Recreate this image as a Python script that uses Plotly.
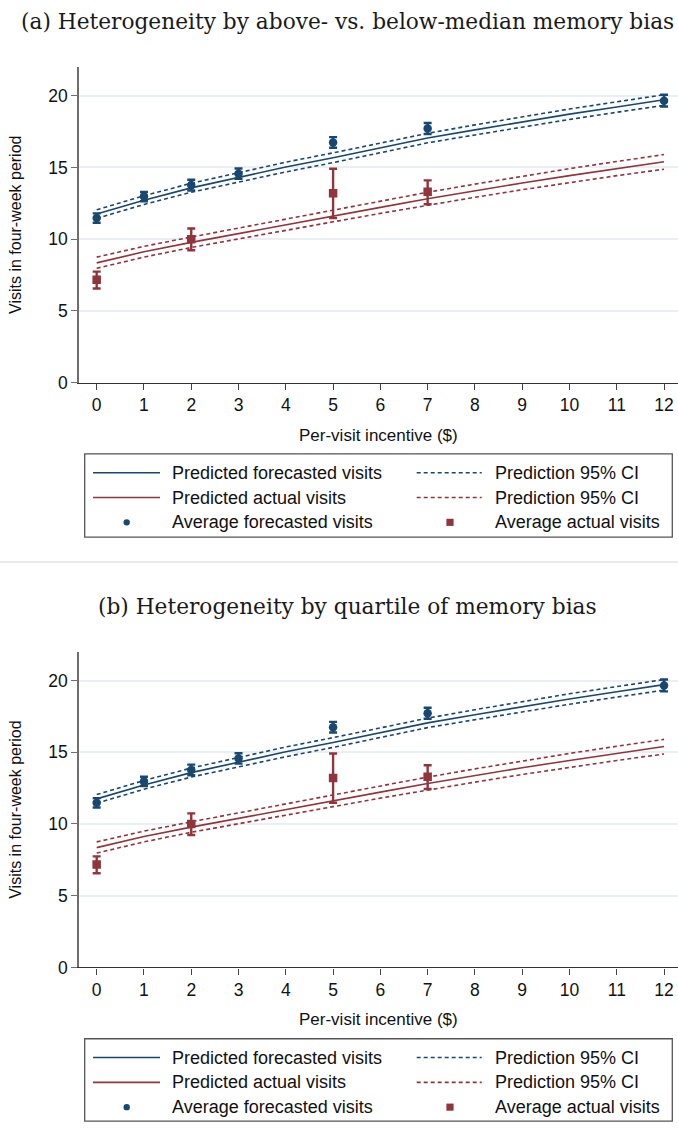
import plotly.graph_objects as go

W, H = 678, 1132

# ---------------- data ----------------
incentive_grid = [0, 1, 2, 3, 4, 5, 6, 7, 8, 9, 10, 11, 12]

pred_forecast = [11.75, 12.72, 13.58, 14.33, 15.03, 15.68, 16.36, 17.05, 17.62, 18.18, 18.72, 19.22, 19.72]
pred_forecast_hi = [12.05, 13.03, 13.90, 14.66, 15.37, 16.02, 16.71, 17.38, 17.97, 18.55, 19.08, 19.58, 20.07]
pred_forecast_lo = [11.45, 12.42, 13.27, 14.00, 14.69, 15.34, 16.02, 16.72, 17.27, 17.82, 18.35, 18.85, 19.33]

pred_actual = [8.35, 9.12, 9.78, 10.40, 11.00, 11.62, 12.22, 12.82, 13.38, 13.92, 14.43, 14.93, 15.40]
pred_actual_hi = [8.75, 9.50, 10.15, 10.78, 11.40, 12.03, 12.65, 13.27, 13.84, 14.40, 14.92, 15.42, 15.90]
pred_actual_lo = [7.97, 8.75, 9.42, 10.03, 10.60, 11.21, 11.80, 12.37, 12.92, 13.45, 13.95, 14.43, 14.88]

forecast_x = [0, 1, 2, 3, 5, 7, 12]
forecast_mean = [11.48, 12.97, 13.77, 14.57, 16.75, 17.72, 19.66]
forecast_hi = [11.80, 13.29, 14.14, 14.93, 17.12, 18.10, 20.07]
forecast_lo = [11.15, 12.65, 13.40, 14.21, 16.38, 17.34, 19.25]

actual_x = [0, 2, 5, 7]
actual_mean = [7.17, 9.99, 13.20, 13.30]
actual_hi = [7.74, 10.74, 14.91, 14.10]
actual_lo = [6.56, 9.23, 11.48, 12.44]

panel_titles = ["(a) Heterogeneity by above- vs. below-median memory bias",
                "(b) Heterogeneity by quartile of memory bias"]
legend_labels = ["Predicted forecasted visits", "Prediction 95% CI",
                 "Predicted actual visits", "Prediction 95% CI",
                 "Average forecasted visits", "Average actual visits"]
y_ticks = [0, 5, 10, 15, 20]
x_ticks = list(range(13))

# ---------------- style ----------------
BLUE = "#1a476f"
RED = "#90353b"
SANS = "Liberation Sans, Arial, sans-serif"
SERIF = "DejaVu Serif, serif"
DASH = "4px,3px"


def px_x(p):
    return p / W


def px_y(p):
    return 1 - p / H


fig = go.Figure()

panels = [("x", "y", 0), ("x2", "y2", 590)]

for xa, ya, off in panels:
    common = dict(xaxis=xa, yaxis=ya, showlegend=False, hoverinfo="skip")
    fig.add_trace(go.Scatter(x=incentive_grid, y=pred_forecast_hi, mode="lines",
                             line=dict(color=BLUE, width=1.6, dash=DASH), **common))
    fig.add_trace(go.Scatter(x=incentive_grid, y=pred_forecast_lo, mode="lines",
                             line=dict(color=BLUE, width=1.6, dash=DASH), **common))
    fig.add_trace(go.Scatter(x=incentive_grid, y=pred_actual_hi, mode="lines",
                             line=dict(color=RED, width=1.6, dash=DASH), **common))
    fig.add_trace(go.Scatter(x=incentive_grid, y=pred_actual_lo, mode="lines",
                             line=dict(color=RED, width=1.6, dash=DASH), **common))
    fig.add_trace(go.Scatter(x=incentive_grid, y=pred_forecast, mode="lines",
                             line=dict(color=BLUE, width=1.6), **common))
    fig.add_trace(go.Scatter(x=incentive_grid, y=pred_actual, mode="lines",
                             line=dict(color=RED, width=1.6), **common))
    fig.add_trace(go.Scatter(
        x=forecast_x, y=forecast_mean, mode="markers",
        marker=dict(symbol="circle", size=8.5, color=BLUE),
        error_y=dict(type="data", symmetric=False,
                     array=[h - m for h, m in zip(forecast_hi, forecast_mean)],
                     arrayminus=[m - l for m, l in zip(forecast_mean, forecast_lo)],
                     color=BLUE, thickness=2.4, width=4),
        **common))
    fig.add_trace(go.Scatter(
        x=actual_x, y=actual_mean, mode="markers",
        marker=dict(symbol="square", size=8.5, color=RED),
        error_y=dict(type="data", symmetric=False,
                     array=[h - m for h, m in zip(actual_hi, actual_mean)],
                     arrayminus=[m - l for m, l in zip(actual_mean, actual_lo)],
                     color=RED, thickness=2.4, width=4),
        **common))

xaxis_style = dict(range=[-0.374, 12.295], tickmode="array", tickvals=x_ticks,
                   ticks="outside", ticklen=6, tickwidth=1.2, tickcolor="#444",
                   showline=True, linecolor="#333", linewidth=1.4,
                   showgrid=False, zeroline=False,
                   tickfont=dict(family=SANS, size=17.5, color="#111"))
yaxis_style = dict(range=[0, 22], tickmode="array", tickvals=y_ticks,
                   ticks="outside", ticklen=6, tickwidth=1.2, tickcolor="#6e6e6e",
                   showline=True, linecolor="#6e6e6e", linewidth=1.6,
                   showgrid=True, gridcolor="#e9eff2", gridwidth=1.6,
                   zeroline=False,
                   tickfont=dict(family=SANS, size=17.5, color="#111"))

fig.update_layout(
    width=W, height=H,
    margin=dict(l=0, r=0, t=0, b=0),
    paper_bgcolor="white", plot_bgcolor="white",
    showlegend=False,
    xaxis=dict(domain=[px_x(79), 1], anchor="y", **xaxis_style),
    yaxis=dict(domain=[px_y(386), px_y(67.7)], anchor="x", **yaxis_style),
    xaxis2=dict(domain=[px_x(79), 1], anchor="y2", **xaxis_style),
    yaxis2=dict(domain=[px_y(976), px_y(657.7)], anchor="x2", **yaxis_style),
)

shapes = []
annotations = []

# separator between the two panels
shapes.append(dict(type="line", xref="paper", yref="paper",
                   x0=0, x1=1, y0=px_y(567), y1=px_y(567),
                   line=dict(color="#e3e3e3", width=1.5)))

for i, (xa, ya, off) in enumerate(panels):
    # panel title
    annotations.append(dict(text=panel_titles[i], xref="paper", yref="paper",
                            x=px_x(347), y=px_y(22 + off), xanchor="center", yanchor="middle",
                            showarrow=False, font=dict(family=SERIF, size=21.7, color="#1a1a1a")))
    # y axis title
    annotations.append(dict(text="Visits in four-week period", xref="paper", yref="paper",
                            x=px_x(16), y=px_y(227 + off), xanchor="center", yanchor="middle",
                            textangle=-90, showarrow=False,
                            font=dict(family=SANS, size=16, color="#111")))
    # x axis title
    annotations.append(dict(text="Per-visit incentive ($)", xref="paper", yref="paper",
                            x=px_x(378.5), y=px_y(439 + off), xanchor="center", yanchor="middle",
                            showarrow=False, font=dict(family=SANS, size=17, color="#111")))
    # legend box
    shapes.append(dict(type="rect", xref="paper", yref="paper",
                       x0=px_x(84.7), x1=px_x(672.3),
                       y0=px_y(min(542 + off, H - 0.8)), y1=px_y(458 + off),
                       line=dict(color="#555", width=1.3), fillcolor="rgba(0,0,0,0)"))
    rows = [477 + off, 502 + off, 527 + off]
    # legend symbols
    shapes.append(dict(type="line", xref="paper", yref="paper",
                       x0=px_x(93), x1=px_x(160), y0=px_y(rows[0]), y1=px_y(rows[0]),
                       line=dict(color=BLUE, width=1.6)))
    shapes.append(dict(type="line", xref="paper", yref="paper",
                       x0=px_x(93), x1=px_x(160), y0=px_y(rows[1]), y1=px_y(rows[1]),
                       line=dict(color=RED, width=1.6)))
    shapes.append(dict(type="line", xref="paper", yref="paper",
                       x0=px_x(416.7), x1=px_x(481.7), y0=px_y(rows[0]), y1=px_y(rows[0]),
                       line=dict(color=BLUE, width=1.6, dash=DASH)))
    shapes.append(dict(type="line", xref="paper", yref="paper",
                       x0=px_x(416.7), x1=px_x(481.7), y0=px_y(rows[1]), y1=px_y(rows[1]),
                       line=dict(color=RED, width=1.6, dash=DASH)))
    shapes.append(dict(type="circle", xref="paper", yref="paper",
                       x0=px_x(126.7 - 3.2), x1=px_x(126.7 + 3.2),
                       y0=px_y(rows[2] + 3.2), y1=px_y(rows[2] - 3.2),
                       line=dict(width=0), fillcolor=BLUE))
    shapes.append(dict(type="rect", xref="paper", yref="paper",
                       x0=px_x(450 - 3.6), x1=px_x(450 + 3.6),
                       y0=px_y(rows[2] + 3.6), y1=px_y(rows[2] - 3.6),
                       line=dict(width=0), fillcolor=RED))
    # legend texts
    positions = [(171.7, rows[0]), (495, rows[0]), (171.7, rows[1]), (495, rows[1]),
                 (171.7, rows[2]), (495, rows[2])]
    for lab, (lx, ly) in zip(legend_labels, positions):
        annotations.append(dict(text=lab, xref="paper", yref="paper",
                                x=px_x(lx - 2), y=px_y(ly), xanchor="left", yanchor="middle",
                                showarrow=False, font=dict(family=SANS, size=18, color="#111")))

fig.update_layout(shapes=shapes, annotations=annotations)

fig.write_html("out.html")
